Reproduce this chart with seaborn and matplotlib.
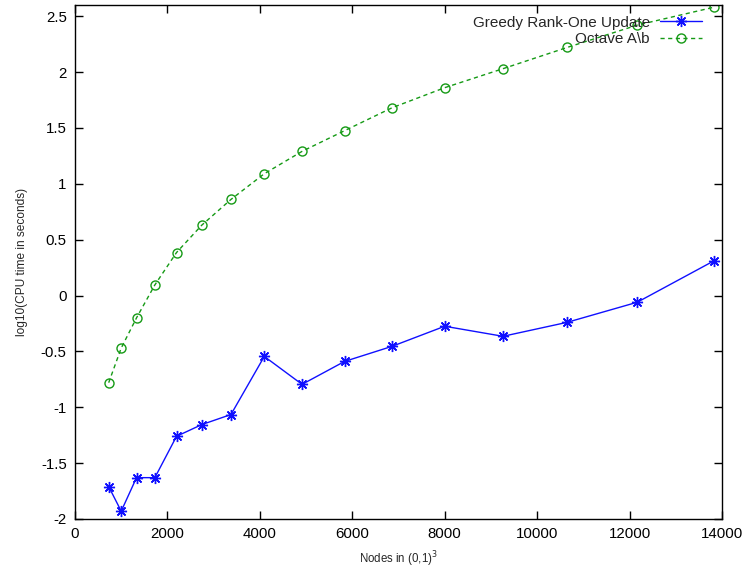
import pandas as pd
import matplotlib
matplotlib.use("Agg")
import matplotlib.pyplot as plt
import seaborn as sns
from matplotlib.ticker import FormatStrFormatter

# nodes in the unit cube (9^3 .. 24^3)
nodes = [729, 1000, 1331, 1728, 2197, 2744, 3375, 4096, 4913, 5832,
         6859, 8000, 9261, 10648, 12167, 13824]

# log10 of CPU time
greedy = [-1.71, -1.93, -1.63, -1.63, -1.26, -1.155, -1.065, -0.545, -0.795, -0.59,
          -0.455, -0.275, -0.365, -0.24, -0.06, 0.31]
octave = [-0.78, -0.47, -0.20, 0.095, 0.385, 0.63, 0.86, 1.09, 1.29, 1.475,
          1.68, 1.86, 2.03, 2.22, 2.42, 2.58]

series_names = ["Greedy Rank-One Update", "Octave A\\b"]

df = pd.concat([
    pd.DataFrame({"nodes": nodes, "t": greedy, "method": series_names[0]}),
    pd.DataFrame({"nodes": nodes, "t": octave, "method": series_names[1]}),
])

sns.set_style("ticks")
plt.rcParams["font.family"] = ["Liberation Sans", "DejaVu Sans"]
plt.rcParams["axes.unicode_minus"] = False

fig = plt.figure(figsize=(7.44, 5.74), dpi=100)
ax = fig.add_axes([75 / 744, 55 / 574, 647 / 744, 514 / 574])

blue = "#1010ff"
green = "#159a15"

sns.lineplot(data=df[df.method == series_names[0]], x="nodes", y="t", ax=ax,
             color=blue, lw=1.0, marker=(8, 2, 0), markersize=8,
             markeredgecolor=blue, markeredgewidth=1.0, sort=False,
             label=series_names[0])
sns.lineplot(data=df[df.method == series_names[1]], x="nodes", y="t", ax=ax,
             color=green, lw=1.0, linestyle=(0, (3, 2.5)), marker="o",
             markersize=6.5, markerfacecolor="none", markeredgecolor=green,
             markeredgewidth=1.0, sort=False, label=series_names[1])

ax.set_xlim(0, 14000)
ax.set_ylim(-2, 2.6)
ax.set_xticks(range(0, 14001, 2000))
ax.set_yticks([-2, -1.5, -1, -0.5, 0, 0.5, 1, 1.5, 2, 2.5])
ax.yaxis.set_major_formatter(FormatStrFormatter("%g"))
ax.tick_params(direction="in", top=True, right=True, length=6, width=1,
               labelsize=10.8, colors="black", pad=6)
for s in ax.spines.values():
    s.set_linewidth(1.0)
    s.set_color("black")

ax.set_xlabel("Nodes in (0,1)$^3$", fontsize=8.3, labelpad=6)
ax.set_ylabel("log10(CPU time in seconds)", fontsize=8.6, labelpad=9)

leg = ax.legend(loc="upper right", frameon=False, markerfirst=False, fontsize=11,
                handlelength=2.75, handletextpad=0.65, labelspacing=0.15,
                borderaxespad=0.3, bbox_to_anchor=(0.985, 1.0))
for t in leg.get_texts():
    t.set_ha("right")

fig.savefig("out.png", dpi=100)
